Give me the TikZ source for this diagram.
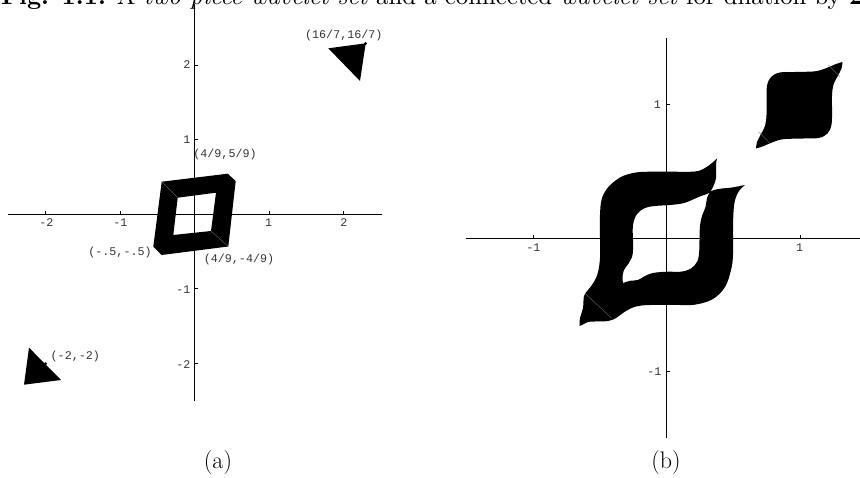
\documentclass[tikz,border=0pt]{standalone}
\usepackage{fontspec}
\usepackage{graphicx}
\newfontfamily\tickfont{Liberation Mono}
\begin{document}
\begin{tikzpicture}[x=1pt,y=-1pt,
  axisline/.style={line width=0.8pt},
  tickmark/.style={line width=0.6pt},
  lbl/.style={font=\tickfont\fontsize{11.7}{13}\selectfont, text=black!80, inner sep=0pt},
  seam/.style={draw=black!55, line width=0.35pt},
  blob/.style={fill=black},
  capfont/.style={font=\fontsize{24}{28}\selectfont, inner sep=0pt}]
\useasboundingbox (0,0) rectangle (860,478);

% ---------- caption (clipped at top) ----------
\node[anchor=base west, inner sep=0pt] (cap) at (1,4.5)
  {\resizebox{862pt}{!}{\textbf{Fig. 1.1.} A \emph{two-piece wavelet set} and a connected \emph{wavelet set} for dilation by \textbf{2}}};

% ---------- panel (a) ----------
\coordinate (ax1) at (8,214);   \coordinate (ax2) at (382,214);
\coordinate (ay1) at (194.5,4); \coordinate (ay2) at (194.5,401);
\draw[axisline] (ax1) -- (ax2);
\draw[axisline] (ay1) -- (ay2);
\foreach \x in {45.3,120,269,343.7} \draw[tickmark] (\x,214) -- (\x,211);
\foreach \y in {65,139.3,288.6,363.2} \draw[tickmark] (194.5,\y) -- (197.5,\y);
\node[lbl] (axm2) at (46.3,222.3) {-2};
\node[lbl] (axm1) at (120.5,222.3) {-1};
\node[lbl] (axp1) at (268.7,222.3) {1};
\node[lbl] (axp2) at (344,222.3) {2};
\node[lbl, anchor=east] (ayp2) at (190.5,65) {2};
\node[lbl, anchor=east] (ayp1) at (190.5,139.3) {1};
\node[lbl, anchor=east] (aym1) at (190.5,289.3) {-1};
\node[lbl, anchor=east] (aym2) at (190.5,364.3) {-2};

% ring
\fill[blob, even odd rule] (161.7,181.7) -- (227.7,173.7) -- (235.7,181) -- (228.3,246.5)
  -- (161.7,255) -- (153.3,246.7) -- cycle
  (177.7,197.7) -- (216,192.7) -- (211,231) -- (173.3,235) -- cycle;
\draw[seam] (161.7,181.7) -- (177.7,197.7);
\draw[seam] (211,231) -- (228.3,246.5);
% triangles
\fill[blob] (328.3,48.3) -- (365.7,43.3) -- (360,81) -- cycle;
\fill[blob] (29,347.7) -- (61,380) -- (24,384.7) -- cycle;
\fill[blob] (365.5,43.5) circle (1.6);
\fill[blob] (45.5,363.8) circle (1.6);
% point labels
\node[lbl] (l1) at (343.8,35.7) {(16/7,16/7)};
\node[lbl] (l2) at (225,154.7) {(4/9,5/9)};
\node[lbl] (l3) at (120,252.3) {(-.5,-.5)};
\node[lbl] (l4) at (239,259.7) {(4/9,-4/9)};
\node[lbl] (l5) at (75.3,356.7) {(-2,-2)};

% ---------- panel (b) ----------
\coordinate (bx1) at (466,238.3);   \coordinate (bx2) at (866,238.3);
\coordinate (by1) at (666.7,38.3);  \coordinate (by2) at (666.7,438.3);
\draw[axisline] (bx1) -- (bx2);
\draw[axisline] (by1) -- (by2);
\foreach \x in {533.3,800} \draw[tickmark] (\x,238.3) -- (\x,235.3);
\foreach \y in {104.3,371.7} \draw[tickmark] (666.7,\y) -- (669.7,\y);
\node[lbl] (bxm1) at (533.3,248) {-1};
\node[lbl] (bxp1) at (799.7,248) {1};
\node[lbl, anchor=east] (byp1) at (661,104.7) {1};
\node[lbl, anchor=east] (bym1) at (661.5,372) {-1};

% main connected piece
\fill[blob, even odd rule]
  plot[smooth, tension=0.6] coordinates {(600,240) (600,215) (601.5,200) (606,190) (613,182.5) (623,176) (636,172.5) (650,171.7) (670,171.7) (695,171.5) (705,168) (712,163) (717,158.5)}
  -- plot[smooth, tension=0.6] coordinates {(717,158.5) (716,165) (716,178) (713,187) (710,192)}
  -- plot[smooth, tension=0.6] coordinates {(710,192) (714,190) (722,188.5) (732,187.5) (745,185)}
  -- plot[smooth, tension=0.6] coordinates {(745,185) (739,191) (735,200) (733.5,212) (733,230) (733,255) (731,270) (725,287) (713,299) (696,304.5) (680,305)}
  -- plot[smooth, tension=0.6] coordinates {(680,305) (650,305) (636,306.5) (626,311) (616,318) (608,321) (595,321.5) (588,322) (583,324.5) (579.5,326)}
  -- plot[smooth, tension=0.6] coordinates {(579.5,326) (580,318) (583,308) (584,296) (588,290) (594,282) (598,272) (600,258) (600,240)}
  -- cycle
  plot[smooth, tension=0.6] coordinates {(633,240) (633,225) (637,214) (645,208) (655,206) (670,205) (683,203.3) (693,199.5) (701,196) (707,194) (710,192)}
  -- plot[smooth, tension=0.6] coordinates {(710,192) (707,198) (705.5,207) (702,216) (700,226) (699.5,240) (699.3,250) (697.5,261) (691,268.5) (681,271.7) (667,271.7) (653,273) (644,276.5) (638,280) (630,280.8) (623,283)}
  -- plot[smooth, tension=0.6] coordinates {(623,283) (622.5,277) (624,270) (628.5,263.5) (632,257) (633,250) (633,240)}
  -- cycle;
\draw[seam] (585,293.3) -- (611.7,318.3);

% top-right piece
\fill[blob]
  plot[smooth, tension=0.6] coordinates {(842.5,62) (836,64) (829,67) (821,70) (813,71.5) (795,72) (780,72.5) (771,77) (767,86) (766.5,100) (766.5,115) (765,126) (761,134) (757,142) (756,148.5)}
  -- plot[smooth, tension=0.6] coordinates {(756,148.5) (762.5,146.5) (769.5,143.5) (777.5,140.5) (785.5,139) (803.5,138.5) (818.5,138) (827.5,133.5) (831.5,124.5) (832,110.5) (832,95.5) (833.5,84.5) (837.5,76.5) (841.5,68.5) (842.5,62)}
  -- cycle;
\draw[seam] (828.3,65) -- (840,76.7);
\draw[seam] (758.3,131.7) -- (770,143.3);

% sub-captions
\node[capfont, anchor=base] (capa) at (218,468) {(a)};
\node[capfont, anchor=base] (capb) at (666,468) {(b)};
\end{tikzpicture}
\end{document}
